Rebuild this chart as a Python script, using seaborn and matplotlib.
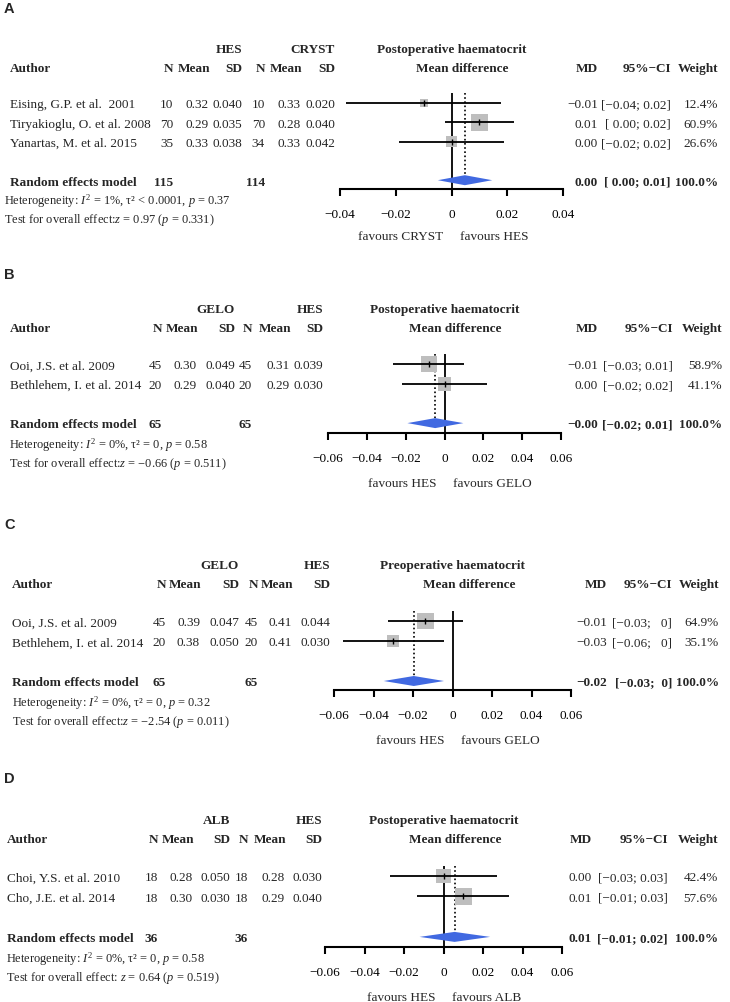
import numpy as np
import pandas as pd
import matplotlib
matplotlib.use("Agg")
import matplotlib.pyplot as plt
import matplotlib.transforms as mtransforms
import seaborn as sns

W, H = 730, 1003

# ---------------- panel A data ----------------
a_authors = ["Eising, G.P. et al.  2001", "Tiryakioglu, O. et al. 2008", "Yanartas, M. et al. 2015"]
a_n1 = [10, 70, 35]
a_mean1 = [0.32, 0.29, 0.33]
a_sd1 = [0.040, 0.035, 0.038]
a_n2 = [10, 70, 34]
a_mean2 = [0.33, 0.28, 0.33]
a_sd2 = [0.020, 0.040, 0.042]
a_md = [-0.0099, 0.0100, 0.0000]
a_lo = [-0.0377, -0.0024, -0.0189]
a_hi = [0.0177, 0.0225, 0.0189]
a_weight = [12.4, 60.9, 26.6]
a_ci = ["[−0.04; 0.02]", "[ 0.00; 0.02]", "[−0.02; 0.02]"]
a_summary = [0.0048, -0.0049, 0.0146]
a_summary_ci = "[ 0.00; 0.01]"
a_totals = [115, 114]
a_groups = ["HES", "CRYST"]
a_outcome = "Postoperative haematocrit"
a_favours = ["favours CRYST", "favours HES"]
a_ticks = [-0.04, -0.02, 0, 0.02, 0.04]
a_ticklabels = ["−0.04", "−0.02", "0", "0.02", "0.04"]
a_het = r"Heterogeneity: $I^2$ = 1%, τ² < 0.0001, $p$ = 0.37"
a_test = r"Test for overall effect:$z$ = 0.97 ($p$ = 0.331)"

# ---------------- panel B data ----------------
b_authors = ["Ooi, J.S. et al. 2009", "Bethlehem, I. et al. 2014"]
b_n1 = [45, 20]
b_mean1 = [0.30, 0.29]
b_sd1 = [0.049, 0.040]
b_n2 = [45, 20]
b_mean2 = [0.31, 0.29]
b_sd2 = [0.039, 0.030]
b_md = [-0.0080, 0.0000]
b_lo = [-0.0265, -0.0220]
b_hi = [0.0103, 0.0219]
b_weight = [58.9, 41.1]
b_ci = ["[−0.03; 0.01]", "[−0.02; 0.02]"]
b_summary = [-0.0048, -0.0191, 0.0097]
b_summary_ci = "[−0.02; 0.01]"
b_totals = [65, 65]
b_groups = ["GELO", "HES"]
b_outcome = "Postoperative haematocrit"
b_favours = ["favours HES", "favours GELO"]
b_ticks = [-0.06, -0.04, -0.02, 0, 0.02, 0.04, 0.06]
b_ticklabels = ["−0.06", "−0.04", "−0.02", "0", "0.02", "0.04", "0.06"]
b_het = r"Heterogeneity: $I^2$ = 0%, τ² = 0, $p$ = 0.58"
b_test = r"Test for overall effect:$z$ = −0.66 ($p$ = 0.511)"

# ---------------- panel C data ----------------
c_authors = ["Ooi, J.S. et al. 2009", "Bethlehem, I. et al. 2014"]
c_n1 = [45, 20]
c_mean1 = [0.39, 0.38]
c_sd1 = [0.047, 0.050]
c_n2 = [45, 20]
c_mean2 = [0.41, 0.41]
c_sd2 = [0.044, 0.030]
c_md = [-0.0137, -0.0301]
c_lo = [-0.0329, -0.0554]
c_hi = [0.0051, -0.0043]
c_weight = [64.9, 35.1]
c_ci = ["[−0.03;   0]", "[−0.06;   0]"]
c_summary = [-0.0196, -0.0348, -0.0043]
c_summary_ci = "[−0.03;  0]"
c_totals = [65, 65]
c_groups = ["GELO", "HES"]
c_outcome = "Preoperative haematocrit"
c_favours = ["favours HES", "favours GELO"]
c_ticks = [-0.06, -0.04, -0.02, 0, 0.02, 0.04, 0.06]
c_ticklabels = ["−0.06", "−0.04", "−0.02", "0", "0.02", "0.04", "0.06"]
c_het = r"Heterogeneity: $I^2$ = 0%, τ² = 0, $p$ = 0.32"
c_test = r"Test for overall effect:$z$ = −2.54 ($p$ = 0.011)"

# ---------------- panel D data ----------------
d_authors = ["Choi, Y.S. et al. 2010", "Cho, J.E. et al. 2014"]
d_n1 = [18, 18]
d_mean1 = [0.28, 0.30]
d_sd1 = [0.050, 0.030]
d_n2 = [18, 18]
d_mean2 = [0.28, 0.29]
d_sd2 = [0.030, 0.040]
d_md = [0.0000, 0.0101]
d_lo = [-0.0273, -0.0135]
d_hi = [0.0269, 0.0333]
d_weight = [42.4, 57.6]
d_ci = ["[−0.03; 0.03]", "[−0.01; 0.03]"]
d_summary = [0.0056, -0.0121, 0.0236]
d_summary_ci = "[−0.01; 0.02]"
d_totals = [36, 36]
d_groups = ["ALB", "HES"]
d_outcome = "Postoperative haematocrit"
d_favours = ["favours HES", "favours ALB"]
d_ticks = [-0.06, -0.04, -0.02, 0, 0.02, 0.04, 0.06]
d_ticklabels = ["−0.06", "−0.04", "−0.02", "0", "0.02", "0.04", "0.06"]
d_het = r"Heterogeneity: $I^2$ = 0%, τ² = 0, $p$ = 0.58"
d_test = r"Test for overall effect: $z$ = 0.64 ($p$ = 0.519)"


def panel(prefix):
    g = globals()
    keys = ["authors", "n1", "mean1", "sd1", "n2", "mean2", "sd2", "md", "lo", "hi",
            "weight", "ci", "summary", "summary_ci", "totals", "groups", "outcome",
            "favours", "ticks", "ticklabels", "het", "test"]
    return {k: g[prefix + "_" + k] for k in keys}


# layout in pixels (x columns are right edges of text columns)
layouts = {
    "A": dict(label_y=9, x0=340, x1=563, top=94, row0=104, row_h=19.3, axis=190,
              author=10, het_x=4, cols=[173, 209, 242, 265, 301, 335], md=598, ci=671,
              sci=671, w=718, mdoff=11, fav=47),
    "B": dict(label_y=275, x0=328, x1=561, top=355, row0=365, row_h=19.7, axis=434,
              author=10, het_x=9, cols=[162, 197, 235, 252, 290, 323], md=598, ci=673,
              sci=673, w=722, mdoff=11, fav=50),
    "C": dict(label_y=525, x0=334, x1=571, top=612, row0=622, row_h=20.0, axis=691,
              author=12, het_x=12, cols=[166, 200, 239, 258, 292, 330], md=607, ci=672,
              sci=672, w=719, mdoff=17, fav=50),
    "D": dict(label_y=779, x0=325, x1=562, top=867, row0=877, row_h=20.3, axis=948,
              author=7, het_x=6, cols=[158, 193, 230, 248, 285, 322], md=592, ci=668,
              sci=668, w=718, mdoff=12, fav=50),
}

sns.set_theme(style="white")
plt.rcParams["font.family"] = ["Liberation Serif", "DejaVu Serif"]
plt.rcParams["mathtext.fontset"] = "custom"
plt.rcParams["mathtext.rm"] = "Liberation Serif"
plt.rcParams["mathtext.it"] = "Liberation Serif:italic"
plt.rcParams["mathtext.bf"] = "Liberation Serif:bold"

FS = 9.5
FS_SMALL = 8.9
SQUARE_GREY = "#BEBEBE"
DIAMOND_BLUE = "#4169E1"
DY = 0.07  # small downward nudge for text rows


def fmt_md(v):
    return f"{v:.2f}".replace("-", "−")


def draw_panel(fig, letter, d, lay):
    n = len(d["authors"])
    rows = np.arange(n)
    srow = n + 1
    rh = lay["row_h"]
    ytop = (lay["top"] - lay["row0"]) / rh
    ybot = (lay["axis"] - lay["row0"]) / rh
    ax = fig.add_axes([lay["x0"] / W, 1 - lay["axis"] / H,
                       (lay["x1"] - lay["x0"]) / W, (lay["axis"] - lay["top"]) / H])
    ax.set_xlim(d["ticks"][0], d["ticks"][-1])
    ax.set_ylim(ybot, ytop)
    ax.patch.set_alpha(0)

    df = pd.DataFrame({"md": d["md"], "row": rows, "weight": d["weight"],
                       "lo": d["lo"], "hi": d["hi"]})
    # squares, area proportional to weight
    sns.scatterplot(data=df, x="md", y="row", size="weight", sizes=(0, 145),
                    size_norm=(0, max(d["weight"])), marker="s", color=SQUARE_GREY,
                    linewidth=0, legend=False, ax=ax, zorder=2)
    ax.hlines(df["row"], df["lo"], df["hi"], color="black", lw=1.3, zorder=3)
    ax.scatter(df["md"], df["row"], marker="|", s=16, color="black", lw=1.0, zorder=4)

    est, slo, shi = d["summary"]
    hh = 5.0 / rh
    ax.fill([slo, est, shi, est], [srow, srow - hh, srow, srow + hh],
            color=DIAMOND_BLUE, lw=0, zorder=3)
    ax.axvline(0, color="black", lw=1.3, zorder=1)
    ax.vlines(est, ytop, srow - hh, color="black", lw=1.2, linestyles=(0, (1, 1.5)), zorder=1)

    for s in ["left", "right", "top"]:
        ax.spines[s].set_visible(False)
    ax.spines["bottom"].set_linewidth(1.5)
    ax.spines["bottom"].set_color("black")
    ax.set_yticks([])
    ax.set_xticks(d["ticks"])
    ax.set_xticklabels(d["ticklabels"])
    ax.tick_params(axis="x", direction="out", length=5, width=1.5, pad=8.7,
                   labelsize=FS, colors="black", bottom=True)
    ax.set_xlabel("")
    ax.set_ylabel("")

    ax.annotate(d["favours"][0], xy=(0, 0), xycoords=("data", "axes fraction"),
                xytext=(-6, -lay["fav"] * 0.72), textcoords="offset points",
                ha="right", va="center", fontsize=FS)
    ax.annotate(d["favours"][1], xy=(0, 0), xycoords=("data", "axes fraction"),
                xytext=(6, -lay["fav"] * 0.72), textcoords="offset points",
                ha="left", va="center", fontsize=FS)

    tr = mtransforms.blended_transform_factory(fig.transFigure, ax.transData)

    def t(xpx, y, s, ha="right", bold=False, size=FS):
        ax.text(xpx / W, y + DY, s, transform=tr, ha=ha, va="center", fontsize=size,
                fontweight="bold" if bold else "normal", clip_on=False)

    cols = lay["cols"]
    pc = (lay["x0"] + lay["x1"]) / 2
    # header
    h1, h2 = -2.85, -1.9
    t(cols[2], h1, d["groups"][0], bold=True)
    t(cols[5], h1, d["groups"][1], bold=True)
    t(pc, h1, d["outcome"], ha="center", bold=True)
    t(lay["author"], h2, "Author", ha="left", bold=True)
    for x, s in zip(cols, ["N", "Mean", "SD", "N", "Mean", "SD"]):
        t(x + (1.5 if s == "Mean" else 0), h2, s, bold=True)
    t(pc + lay["mdoff"], h2, "Mean difference", ha="center", bold=True)
    t(lay["md"], h2, "MD", bold=True)
    t(lay["ci"], h2, "95%−CI", bold=True)
    t(lay["w"], h2, "Weight", bold=True)

    # study rows
    for i in range(n):
        t(lay["author"], i, d["authors"][i], ha="left")
        t(cols[0], i, str(d["n1"][i]))
        t(cols[1], i, f"{d['mean1'][i]:.2f}")
        t(cols[2], i, f"{d['sd1'][i]:.3f}")
        t(cols[3], i, str(d["n2"][i]))
        t(cols[4], i, f"{d['mean2'][i]:.2f}")
        t(cols[5], i, f"{d['sd2'][i]:.3f}")
        t(lay["md"], i, fmt_md(d["md"][i]))
        t(lay["ci"], i, d["ci"][i])
        t(lay["w"], i, f"{d['weight'][i]:.1f}%")

    # summary
    t(lay["author"], srow, "Random effects model", ha="left", bold=True)
    t(cols[0], srow, str(d["totals"][0]), bold=True)
    t(cols[3], srow, str(d["totals"][1]), bold=True)
    t(lay["md"], srow, fmt_md(est), bold=True)
    t(lay["sci"], srow, d["summary_ci"], bold=True)
    t(lay["w"], srow, "100.0%", bold=True)
    t(lay["het_x"], srow + 0.98, d["het"], ha="left", size=FS_SMALL)
    t(lay["het_x"], srow + 1.93, d["test"], ha="left", size=FS_SMALL)

    fig.text(4 / W, 1 - lay["label_y"] / H, letter, ha="left", va="center",
             fontsize=10.5, fontweight="bold", family=["Liberation Sans", "DejaVu Sans"])


fig = plt.figure(figsize=(W / 100, H / 100), dpi=100)
for letter, prefix in zip("ABCD", "abcd"):
    draw_panel(fig, letter, panel(prefix), layouts[letter])

fig.savefig("out.png", dpi=100, facecolor="white")
